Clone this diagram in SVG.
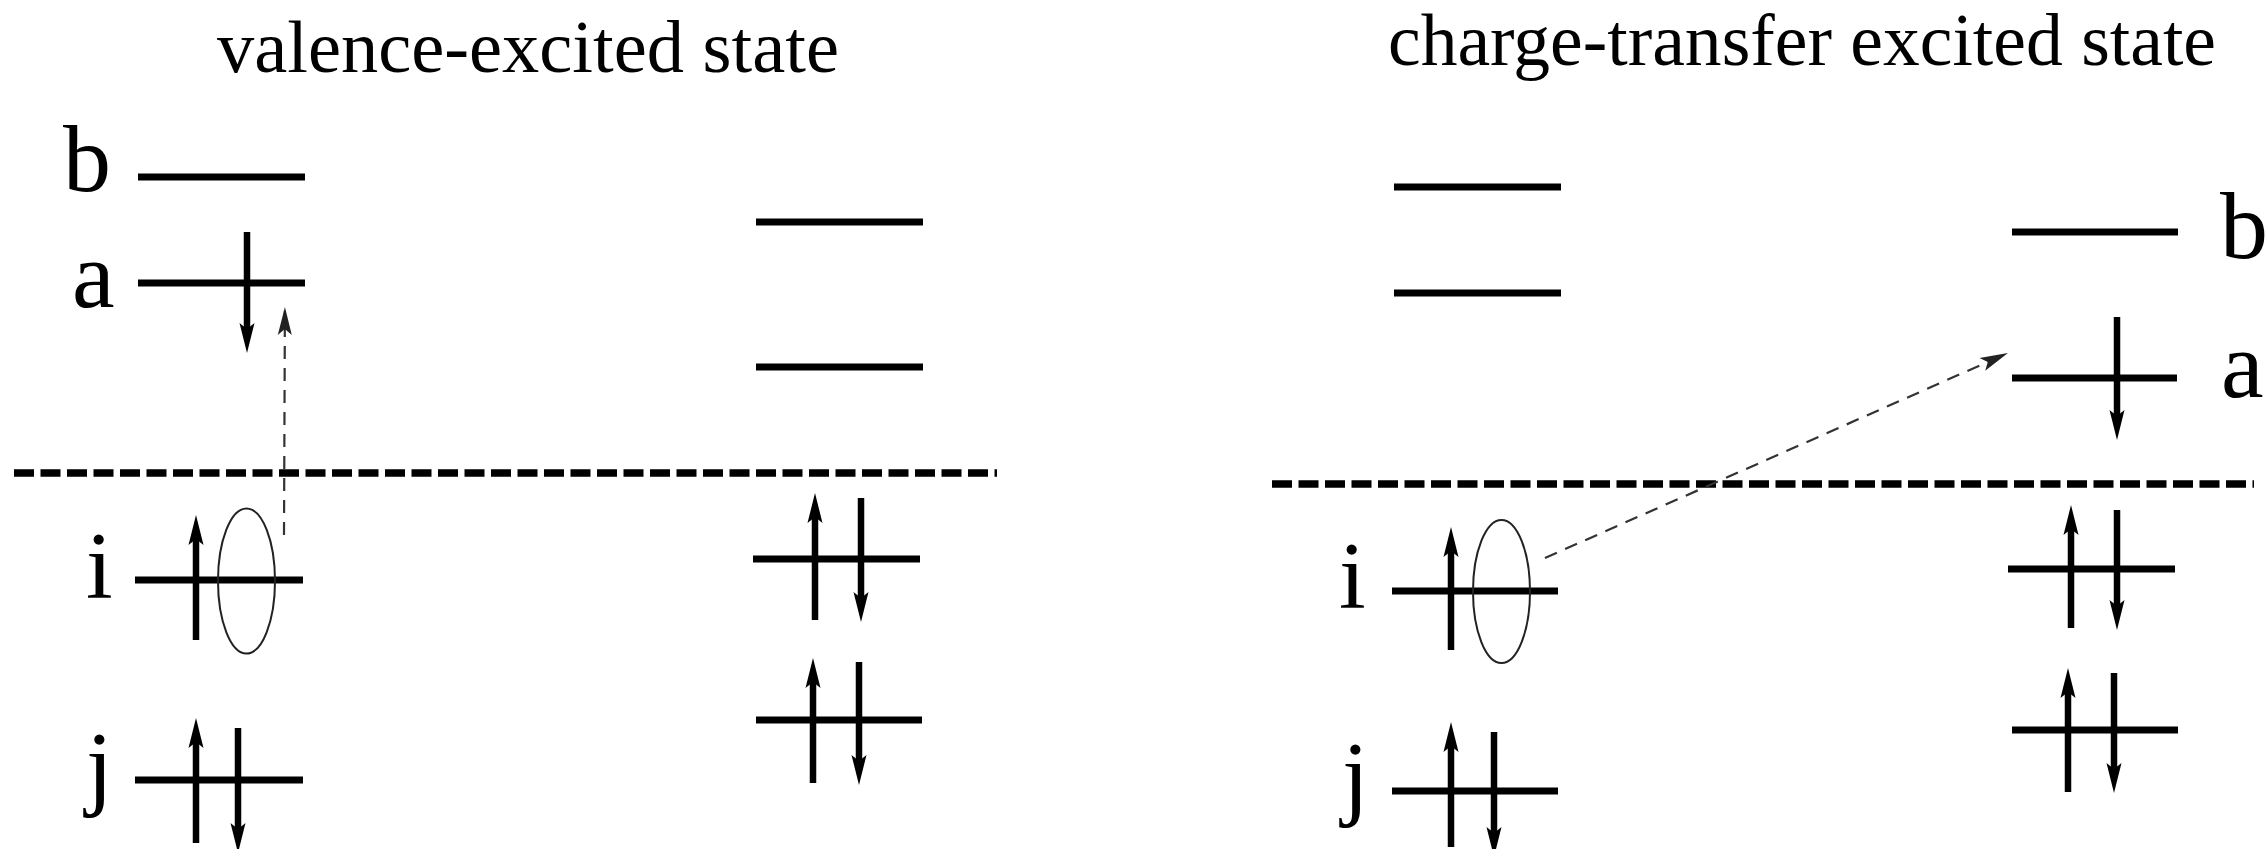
<svg xmlns="http://www.w3.org/2000/svg" width="2266" height="849" viewBox="0 0 2266 849">
  <style>
    .lvl { stroke: #000; stroke-width: 7; fill: none; }
    .spin { stroke: #000; stroke-width: 6.5; fill: none; marker-end: url(#head); }
    .sep { stroke: #000; stroke-width: 7.5; stroke-dasharray: 20 6.5; fill: none; }
    .exc { stroke: #333; stroke-width: 2.2; stroke-dasharray: 13 9; fill: none; marker-end: url(#dhead); }
    .orb { stroke: #222; stroke-width: 2; fill: none; }
    .lab { font-family: "Liberation Serif", "Times New Roman", serif; font-size: 96px; fill: #000; }
    .title { font-family: "Liberation Serif", "Times New Roman", serif; font-size: 74px; fill: #000; }
  </style>
  <defs>
    <marker id="head" viewBox="-32 -9 34 18" markerWidth="34" markerHeight="18" refX="-20" refY="0" orient="auto" markerUnits="userSpaceOnUse">
      <path d="M0,0 L-30,-7.5 L-24,0 L-30,7.5 Z" fill="#000"/>
    </marker>
    <marker id="dhead" viewBox="-32 -8 34 16" markerWidth="34" markerHeight="16" refX="-4" refY="0" orient="auto" markerUnits="userSpaceOnUse">
      <path d="M0,0 L-28,-7 L-22,0 L-28,7 Z" fill="#222"/>
    </marker>
  </defs>
  <rect width="2266" height="849" fill="#fff"/>

  <text class="title" x="217" y="72" textLength="622" lengthAdjust="spacingAndGlyphs">valence-excited state</text>
  <text class="title" x="1388" y="65" textLength="828" lengthAdjust="spacingAndGlyphs">charge-transfer excited state</text>

  <line class="sep" x1="14" y1="473" x2="997" y2="473"/>
  <line class="sep" x1="1272" y1="484" x2="2254" y2="484"/>

  <!-- Left panel, molecule 1 -->
  <g id="L-b">
    <text class="lab" x="63" y="191">b</text>
    <line class="lvl" x1="138" y1="177" x2="305" y2="177"/>
  </g>
  <g id="L-a">
    <text class="lab" x="72" y="307">a</text>
    <line class="lvl" x1="138" y1="283" x2="305" y2="283"/>
    <line class="spin" x1="247" y1="232" x2="247" y2="333"/>
  </g>
  <g id="L-i">
    <text class="lab" x="86" y="598">i</text>
    <line class="lvl" x1="135" y1="580" x2="303" y2="580"/>
    <line class="spin" x1="196" y1="640" x2="196" y2="535"/>
    <ellipse class="orb" cx="246.5" cy="581" rx="28.5" ry="72.5"/>
  </g>
  <g id="L-j">
    <text class="lab" x="86" y="798">j</text>
    <line class="lvl" x1="135" y1="780" x2="303" y2="780"/>
    <line class="spin" x1="196" y1="843" x2="196" y2="738"/>
    <line class="spin" x1="238" y1="728" x2="238" y2="833"/>
  </g>

  <!-- Left panel, molecule 2 -->
  <g id="L-v2">
    <line class="lvl" x1="756" y1="222" x2="923" y2="222"/>
  </g>
  <g id="L-v1">
    <line class="lvl" x1="756" y1="367" x2="923" y2="367"/>
  </g>
  <g id="L-o1">
    <line class="lvl" x1="753" y1="559" x2="920" y2="559"/>
    <line class="spin" x1="815" y1="620" x2="815" y2="513"/>
    <line class="spin" x1="861" y1="498" x2="861" y2="602"/>
  </g>
  <g id="L-o2">
    <line class="lvl" x1="756" y1="720" x2="922" y2="720"/>
    <line class="spin" x1="813" y1="783" x2="813" y2="678"/>
    <line class="spin" x1="859" y1="662" x2="859" y2="765"/>
  </g>

  <!-- Right panel, molecule 1 -->
  <g id="R-v2">
    <line class="lvl" x1="1394" y1="187" x2="1561" y2="187"/>
  </g>
  <g id="R-v1">
    <line class="lvl" x1="1394" y1="293" x2="1561" y2="293"/>
  </g>
  <g id="R-i">
    <text class="lab" x="1339" y="608">i</text>
    <line class="lvl" x1="1392" y1="591" x2="1558" y2="591"/>
    <line class="spin" x1="1451" y1="650" x2="1451" y2="547"/>
    <ellipse class="orb" cx="1501.5" cy="591.5" rx="28.5" ry="71.5"/>
  </g>
  <g id="R-j">
    <text class="lab" x="1342" y="808">j</text>
    <line class="lvl" x1="1392" y1="791" x2="1558" y2="791"/>
    <line class="spin" x1="1451" y1="847" x2="1451" y2="742"/>
    <line class="spin" x1="1494" y1="732" x2="1494" y2="837"/>
  </g>

  <!-- Right panel, molecule 2 -->
  <g id="R-b">
    <line class="lvl" x1="2012" y1="232" x2="2178" y2="232"/>
    <text class="lab" x="2220" y="258">b</text>
  </g>
  <g id="R-a">
    <line class="lvl" x1="2012" y1="378" x2="2177" y2="378"/>
    <line class="spin" x1="2117" y1="317" x2="2117" y2="420"/>
    <text class="lab" x="2221" y="397">a</text>
  </g>
  <g id="R-o1">
    <line class="lvl" x1="2008" y1="569" x2="2175" y2="569"/>
    <line class="spin" x1="2071" y1="628" x2="2071" y2="525"/>
    <line class="spin" x1="2117" y1="510" x2="2117" y2="610"/>
  </g>
  <g id="R-o2">
    <line class="lvl" x1="2012" y1="730" x2="2178" y2="730"/>
    <line class="spin" x1="2068" y1="792" x2="2068" y2="688"/>
    <line class="spin" x1="2114" y1="673" x2="2114" y2="773"/>
  </g>

  <!-- Connectors: excitations -->
  <g id="connectors">
    <line class="exc" x1="284" y1="535" x2="284.9" y2="311"/>
    <line class="exc" x1="1545" y1="558" x2="2004.3" y2="354.6"/>
  </g>
</svg>
